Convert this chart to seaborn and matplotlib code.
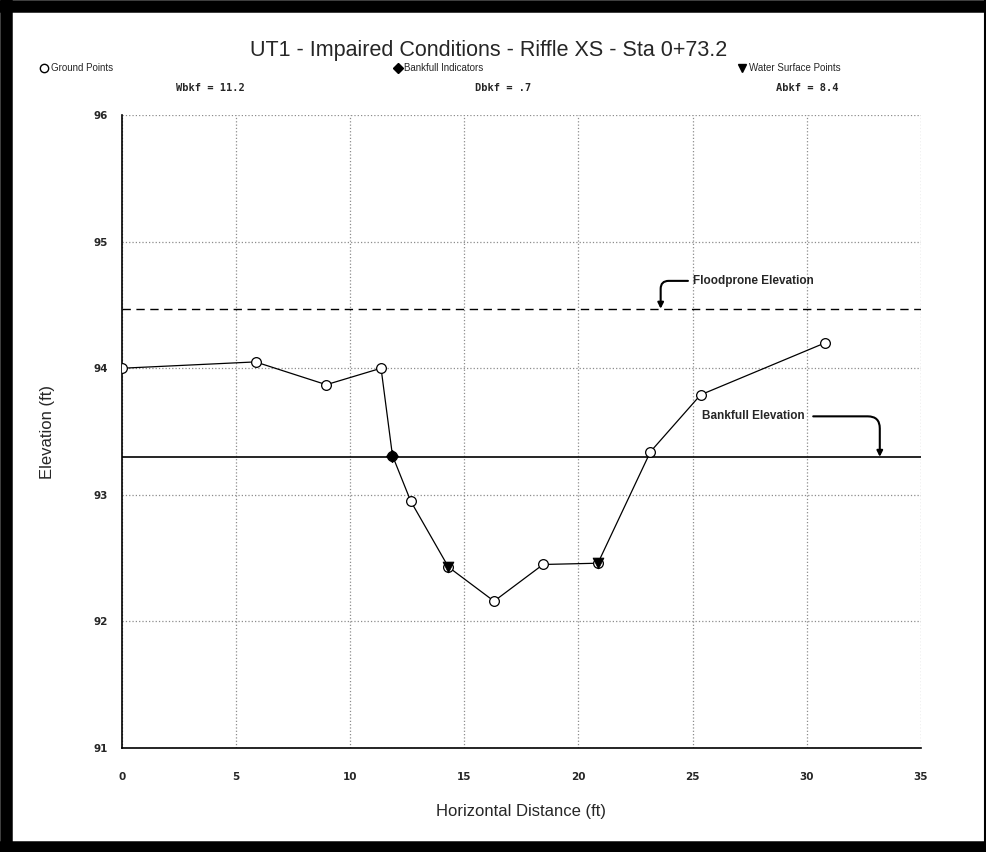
import matplotlib
matplotlib.use("Agg")
import matplotlib.pyplot as plt
import seaborn as sns
import pandas as pd
from matplotlib.lines import Line2D
from matplotlib.ticker import MultipleLocator

# ground survey points across the riffle (ft)
station = [0.0, 5.85, 8.95, 11.35, 11.85, 12.65, 14.3, 16.3, 18.45, 20.85, 23.15, 25.35, 30.8]
elevation = [94.0, 94.05, 93.87, 94.0, 93.31, 92.95, 92.43, 92.16, 92.45, 92.46, 93.34, 93.79, 94.2]

bankfull_x = [11.85]
bankfull_y = [93.31]
water_x = [14.3, 20.85]
water_y = [92.43, 92.46]

bankfull_elev = 93.3
floodprone_elev = 94.47

x_ticks = [0, 5, 10, 15, 20, 25, 30, 35]
y_ticks = [91, 92, 93, 94, 95, 96]

stats = ["Wbkf = 11.2", "Dbkf = .7", "Abkf = 8.4"]

title = "UT1 - Impaired Conditions - Riffle XS - Sta 0+73.2"

sns.set_style("white")
plt.rcParams["font.family"] = ["Liberation Sans", "DejaVu Sans"]

ground = pd.DataFrame({"station": station, "elevation": elevation})

fig = plt.figure(figsize=(9.87, 8.52), dpi=100)
ax = fig.add_axes([0.1236, 0.122, 0.8094, 0.743])

# reference lines
ax.axhline(floodprone_elev, color="black", lw=1.0, ls=(0, (6, 4)), zorder=2)
ax.axhline(bankfull_elev, color="black", lw=1.2, zorder=2)

sns.lineplot(data=ground, x="station", y="elevation", ax=ax, color="black",
             lw=0.9, marker="o", markersize=7, markerfacecolor="white",
             markeredgecolor="black", markeredgewidth=0.9, sort=False, zorder=3)
sns.scatterplot(x=bankfull_x, y=bankfull_y, ax=ax, marker="D", s=40,
                color="black", edgecolor="black", zorder=4)
sns.scatterplot(x=water_x, y=water_y, ax=ax, marker="v", s=60,
                color="black", edgecolor="black", zorder=4)

ax.set_xlim(0, 35)
ax.set_ylim(91, 96)
ax.set_xticks(x_ticks)
ax.set_yticks(y_ticks)
ax.yaxis.set_minor_locator(MultipleLocator(0.5))
ax.grid(True, which="major", color="#8c8c8c", ls=":", lw=0.9)
for s in ["top", "right"]:
    ax.spines[s].set_visible(False)
for s in ["left", "bottom"]:
    ax.spines[s].set_color("black")
    ax.spines[s].set_linewidth(1.2)
ax.tick_params(axis="both", which="major", direction="inout", length=14,
               width=0.9, color="black", labelsize=7.5, pad=3)
ax.tick_params(axis="y", which="minor", direction="in", length=10, width=0.9, color="black")
ax.tick_params(axis="x", pad=10)
for lab in ax.get_xticklabels() + ax.get_yticklabels():
    lab.set_fontfamily("DejaVu Sans")
    lab.set_fontweight("bold")

ax.set_xlabel("Horizontal Distance (ft)", fontsize=12, labelpad=16)
ax.set_ylabel("Elevation (ft)", fontsize=12, labelpad=28)

# annotations
ax.annotate("Floodprone Elevation", xy=(23.6, floodprone_elev), xytext=(25.0, 94.69),
            fontsize=8.5, fontweight="bold", ha="left", va="center",
            arrowprops=dict(arrowstyle="-|>", color="black", lw=1.5,
                            connectionstyle="angle,angleA=0,angleB=90,rad=8",
                            relpos=(0, 0.5), shrinkA=1, shrinkB=0))
ax.annotate("Bankfull Elevation", xy=(33.2, bankfull_elev), xytext=(25.4, 93.62),
            fontsize=8.5, fontweight="bold", ha="left", va="center",
            arrowprops=dict(arrowstyle="-|>", color="black", lw=1.5,
                            connectionstyle="angle,angleA=0,angleB=90,rad=12",
                            relpos=(1, 0.5), shrinkA=4, shrinkB=0))

# title, legend row, bankfull stats row
fig.text(0.495, 0.941, title, ha="center", va="center", fontsize=15.5)

handles = [
    Line2D([], [], ls="none", marker="o", markersize=6, markerfacecolor="white",
           markeredgecolor="black", label="Ground Points"),
    Line2D([], [], ls="none", marker="D", markersize=5, color="black",
           label="Bankfull Indicators"),
    Line2D([], [], ls="none", marker="v", markersize=6, color="black",
           label="Water Surface Points"),
]
for xpos, h in zip([0.040, 0.398, 0.747], handles):
    fig.legend(handles=[h], loc="center left", bbox_to_anchor=(xpos, 0.92),
               frameon=False, fontsize=7, handletextpad=0.2, handlelength=1.0,
               borderaxespad=0, borderpad=0)

for xpos, txt in zip([0.213, 0.510, 0.818], stats):
    fig.text(xpos, 0.897, txt, ha="center", va="center", fontsize=7.5,
             fontweight="bold", family="DejaVu Sans Mono")

# black frame around the whole picture
fig.add_artist(Line2D([0.006, 0.006], [0, 1], transform=fig.transFigure, color="black", lw=9))
fig.add_artist(Line2D([0, 1], [0.993, 0.993], transform=fig.transFigure, color="black", lw=9))
fig.add_artist(Line2D([0, 1], [0.006, 0.006], transform=fig.transFigure, color="black", lw=9))
fig.add_artist(Line2D([0.998, 0.998], [0, 1], transform=fig.transFigure, color="black", lw=1.5))

fig.savefig("out.png", dpi=100)
